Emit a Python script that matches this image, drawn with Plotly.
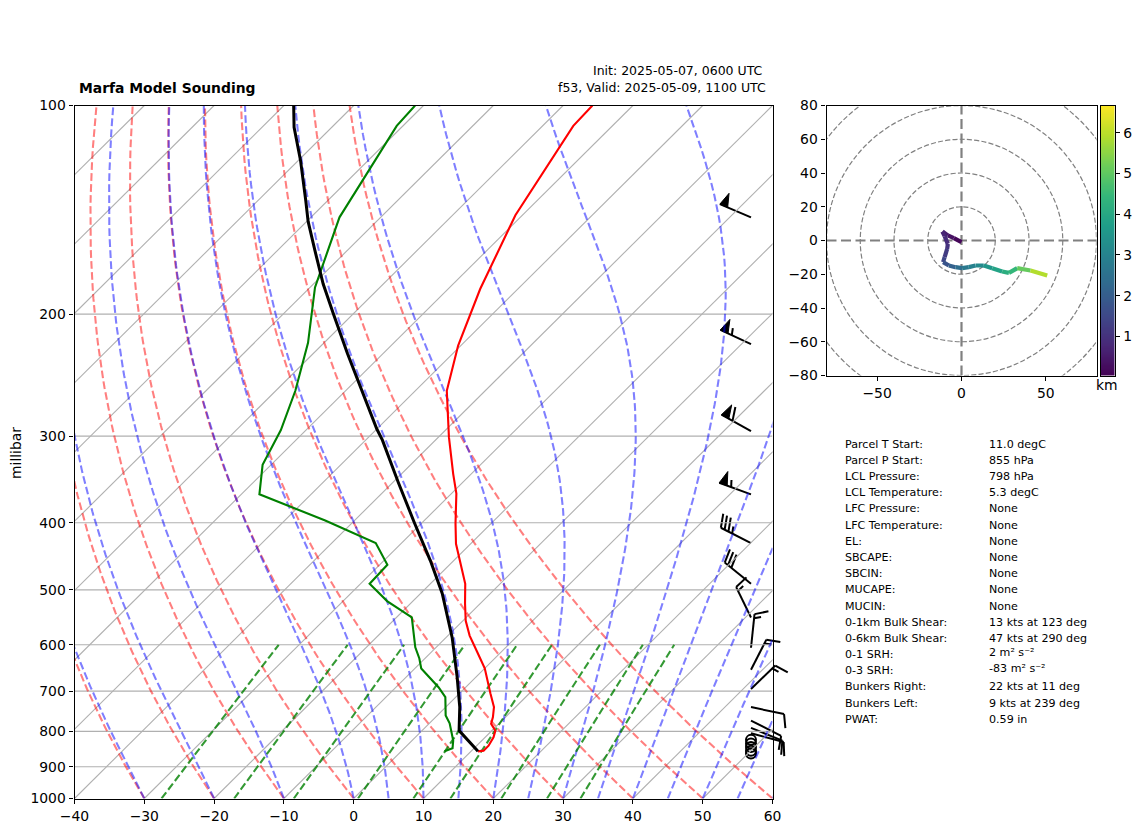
import numpy as np
import plotly.graph_objects as go
import plotly.colors as pc

WIDTH, HEIGHT = 1142, 832
FONT = 'DejaVu Sans'

# sounding (hPa, degC)
temp_p = [855, 853, 839, 816, 798, 780, 763, 738, 705, 676, 649, 615, 582, 554, 523, 490,
          458, 429, 401, 363, 340, 301, 258, 222, 184, 144, 107, 100]
temp_c = [11.0, 11.7, 11.7, 11.2, 10.5, 8.9, 8.2, 6.9, 4.4, 2.2, 0.0, -3.4, -6.9, -9.6, -12.2, -15.0,
          -18.6, -22.1, -25.1, -29.3, -32.6, -38.5, -45.5, -50.4, -55.4, -61.0, -65.6, -65.8]
dewp_p = [855, 846, 825, 798, 779, 759, 714, 691, 649, 628, 605, 548, 519, 490, 460, 428,
          397, 364, 330, 294, 258, 220, 183, 145, 107, 100]
dewp_c = [6.2, 6.9, 5.9, 4.1, 2.9, 1.2, -1.5, -3.9, -9.1, -10.8, -13.0, -17.8, -23.7, -28.7, -28.9, -33.7,
          -44.2, -57.4, -61.2, -63.6, -67.2, -72.3, -79.3, -85.9, -90.9, -91.2]
parcel_p = [855, 798, 738, 668, 586, 506, 454, 429, 400, 350, 304, 293, 255, 228, 200, 181, 162, 147, 137,
            120, 107.5, 100]
parcel_c = [11.0, 5.3, 2.0, -2.7, -9.1, -16.9, -23.3, -26.8, -31.1, -39.2, -47.6, -50.0, -58.4, -65.1, -72.8,
            -78.6, -84.6, -89.8, -93.2, -99.7, -105.4, -108.6]

# wind barbs
barb_p = [145, 221, 295, 364, 428, 490, 548, 606, 652, 695, 738, 772, 791, 805]
barb_kts = [50, 55, 60, 55, 35, 30, 15, 15, 15, 15, 10, 10, 10, 10]
barb_dir = [293, 295, 299, 290, 297, 309, 334, 6, 27, 46, 102, 117, 112, 105]
calm_p = [823, 833, 843, 853, 861]

# hodograph
hodo_u = [0, -4.5, -8.1, -11.3, -10, -8.1, -8.5, -10, -10.9, -7.5, -3.6, 0.4, 4.3, 8.3, 13.2, 18.2, 24.1, 28.1,
          33, 40.9, 50.8]
hodo_v = [-1, 1.4, 3, 5.3, 2.6, -2, -5, -9.9, -12.8, -14.8, -15.8, -16.4, -15.8, -14.8, -14.8, -16.4, -18.4, -19.2,
          -16.4, -17.8, -20.7]
hodo_km = [0.05, 0.25, 0.45, 0.65, 0.8, 0.95, 1.1, 1.35, 1.6, 1.95, 2.25, 2.6, 2.85, 3.05, 3.35, 3.7, 4.05, 4.3,
           4.55, 5.6, 6.2]
hodo_rings = [20, 40, 60, 80, 100]
km_min, km_max = 0.04, 6.67

# background lines of the skew-T
isotherm_start = list(range(-140, 70, 10))
dry_start = list(range(-40, 70, 10))
moist_start = [-40, -30, -20, -10, 0, 5, 10, 15, 20, 25, 30, 35, 40, 45, 50, 55, 60]
mixing_ratios = [0.0004, 0.001, 0.002, 0.004, 0.007, 0.01, 0.016, 0.024, 0.032]

p_ticks = [100, 200, 300, 400, 500, 600, 700, 800, 900, 1000]
t_ticks = list(range(-40, 70, 10))
hodo_x_ticks = [-50, 0, 50]
hodo_y_ticks = [-80, -60, -40, -20, 0, 20, 40, 60, 80]
cbar_ticks = [1, 2, 3, 4, 5, 6]

stat_labels = ['Parcel T Start:', 'Parcel P Start:', 'LCL Pressure:', 'LCL Temperature:', 'LFC Pressure:',
               'LFC Temperature:', 'EL:', 'SBCAPE:', 'SBCIN:', 'MUCAPE:', 'MUCIN:', '0-1km Bulk Shear:',
               '0-6km Bulk Shear:', '0-1 SRH:', '0-3 SRH:', 'Bunkers Right:', 'Bunkers Left:', 'PWAT:']
stat_values = ['11.0 degC', '855 hPa', '798 hPa', '5.3 degC', 'None', 'None', 'None', 'None', 'None', 'None',
               'None', '13 kts at 123 deg', '47 kts at 290 deg', '2 m² s⁻²', '-83 m² s⁻²', '22 kts at 11 deg',
               '9 kts at 239 deg', '0.59 in']

# plot boxes in pixels of the page
MAIN_L, MAIN_R, MAIN_T, MAIN_B = 74.5, 772.5, 105.5, 798.5
HODO_L, HODO_R, HODO_T, HODO_B = 826.5, 1096.5, 105.5, 375.5
CBAR_L, CBAR_R = 1100.5, 1114.5
BARB_R = 800.5  # barbs run past the right edge of the skew-T
PX_PER_DEG = (MAIN_R - MAIN_L) / 100
PX_PER_DECADE = MAIN_B - MAIN_T
SKEW = 100  # degC of lean per decade of pressure


def px(x):
    return x / WIDTH


def py(y):
    return 1 - y / HEIGHT


def skew_x(t, p):
    return np.asarray(t, dtype=float) + SKEW * np.log10(1000 / np.asarray(p, dtype=float))


def moist_curve(t0, p):
    # RK4 on the saturated lapse rate, starting from 1000 hPa
    def slope(t, pr):
        es = 6.112 * np.exp(17.67 * (t - 273.15) / (t - 29.65))
        rs = 0.622 * es / (pr - es)
        return (287.05 * t + 2.501e6 * rs) / (1005.0 + 2.501e6 ** 2 * rs * 0.622 / (287.05 * t ** 2)) / pr

    out = [t0 + 273.15]
    for p0, p1 in zip(p[:-1], p[1:]):
        t, h = out[-1], p1 - p0
        k1 = slope(t, p0)
        k2 = slope(t + h * k1 / 2, p0 + h / 2)
        k3 = slope(t + h * k2 / 2, p0 + h / 2)
        k4 = slope(t + h * k3, p1)
        out.append(t + h * (k1 + 2 * k2 + 2 * k3 + k4) / 6)
    return np.array(out) - 273.15


def barb_shapes(pressures, speeds, directions, anchor):
    # same proportions as matplotlib barbs: length 7, spacing .125, height .4, width .25
    length = 33.8
    spacing, height, width = 0.125 * length, 0.4 * length, 0.25 * length
    line_x, line_y, flag_x, flag_y = [], [], [], []
    for pres, spd, wdir in zip(pressures, speeds, directions):
        dx, dy = np.sin(np.radians(wdir)), np.cos(np.radians(wdir))
        nx, ny = dy, -dx

        def place(along, across):
            ox = along * dx + across * nx
            oy = along * dy + across * ny
            return anchor + ox / PX_PER_DEG, pres * 10 ** (-oy / PX_PER_DECADE)

        def add_line(*pts):
            for a, c in pts:
                x, y = place(a, c)
                line_x.append(x)
                line_y.append(y)
            line_x.append(None)
            line_y.append(None)

        add_line((0, 0), (length, 0))
        n_flag, rest = divmod(spd, 50)
        n_full, n_half = divmod(rest, 10)
        off = 0
        for _ in range(n_flag):
            a = length - off
            for al, ac in [(a, 0), (a - width / 2, height), (a - width, 0), (a, 0)]:
                x, y = place(al, ac)
                flag_x.append(x)
                flag_y.append(y)
            flag_x.append(None)
            flag_y.append(None)
            off += width + spacing
        for _ in range(n_full):
            a = length - off
            add_line((a, 0), (a + width / 2, height))
            off += spacing
        if n_half:
            if n_flag == 0 and n_full == 0:
                off += 1.5 * spacing
            a = length - off
            add_line((a, 0), (a + width / 4, height / 2))
    return line_x, line_y, flag_x, flag_y


fig = go.Figure()
p_full = np.linspace(1000, 100, 181)
DASH = '7.7px,3.3px'
barb_anchor = (751 - MAIN_L) / PX_PER_DEG - 40

# barbs go on the wider hidden x axis so they are drawn first and not cut at the frame
bx, by, fx, fy = barb_shapes(barb_p, barb_kts, barb_dir, barb_anchor)
fig.add_trace(go.Scatter(x=fx, y=fy, mode='lines', fill='toself', fillcolor='black',
                         line=dict(color='black', width=1)))
fig.add_trace(go.Scatter(x=bx, y=by, mode='lines', line=dict(color='black', width=2)))
fig.add_trace(go.Scatter(x=[barb_anchor] * len(calm_p), y=calm_p, mode='markers',
                         marker=dict(symbol='circle-open', size=10, color='black', line=dict(width=2, color='black'))))

# isotherms and pressure lines
for t in isotherm_start:
    fig.add_trace(go.Scatter(x=skew_x([t, t], [1000, 100]), y=[1000, 100], xaxis='x3', mode='lines',
                             line=dict(color='#b0b0b0', width=1.1)))
for p in p_ticks[1:-1]:
    fig.add_trace(go.Scatter(x=[-40, 60], y=[p, p], xaxis='x3', mode='lines', line=dict(color='#b0b0b0', width=1.1)))

for t in dry_start:
    temps = (t + 273.15) * (p_full / 1000) ** 0.2857 - 273.15
    fig.add_trace(go.Scatter(x=skew_x(temps, p_full), y=p_full, xaxis='x3', mode='lines',
                             line=dict(color='rgba(255,0,0,0.5)', width=2.08, dash=DASH)))
for t in moist_start:
    fig.add_trace(go.Scatter(x=skew_x(moist_curve(t, p_full), p_full), y=p_full, xaxis='x3', mode='lines',
                             line=dict(color='rgba(0,0,255,0.5)', width=2.08, dash=DASH)))
p_mix = np.linspace(1000, 600, 81)
for w in mixing_ratios:
    ln_e = np.log(p_mix * w / (0.622 + w) / 6.112)
    dew = 243.5 * ln_e / (17.67 - ln_e)
    fig.add_trace(go.Scatter(x=skew_x(dew, p_mix), y=p_mix, xaxis='x3', mode='lines',
                             line=dict(color='rgba(0,128,0,0.8)', width=2.08, dash=DASH)))

fig.add_trace(go.Scatter(x=skew_x(temp_c, temp_p), y=temp_p, xaxis='x3', mode='lines', line=dict(color='red', width=2.1)))
fig.add_trace(go.Scatter(x=skew_x(dewp_c, dewp_p), y=dewp_p, xaxis='x3', mode='lines', line=dict(color='green', width=2.1)))
fig.add_trace(go.Scatter(x=skew_x(parcel_c, parcel_p), y=parcel_p, xaxis='x3', mode='lines', line=dict(color='black', width=3)))

# hodograph
for axis_x, axis_y in [([-80, 80], [0, 0]), ([0, 0], [-80, 80])]:
    fig.add_trace(go.Scatter(x=axis_x, y=axis_y, xaxis='x2', yaxis='y2', mode='lines',
                             line=dict(color='gray', width=2.2, dash='10px,4.5px')))
for i in range(len(hodo_u) - 1):
    frac = ((hodo_km[i] + hodo_km[i + 1]) / 2 - km_min) / (km_max - km_min)
    fig.add_trace(go.Scatter(x=hodo_u[i:i + 2], y=hodo_v[i:i + 2], xaxis='x2', yaxis='y2', mode='lines',
                             line=dict(color=pc.sample_colorscale('Viridis', [frac])[0], width=4.2)))

# colour bar as its own small axes, a real colorbar would push the margins
km_steps = np.linspace(km_min, km_max, 256)
fig.add_trace(go.Heatmap(x=[0, 1], y=km_steps, z=[[v, v] for v in km_steps], xaxis='x4', yaxis='y4',
                         colorscale='Viridis', zmin=km_min, zmax=km_max, showscale=False))

rings = [dict(type='circle', xref='x2', yref='y2', x0=-r, x1=r, y0=-r, y1=r, layer='below',
              line=dict(color='gray', width=1.2, dash='5.1px,2.2px')) for r in hodo_rings]


def label(text, x, y, size=13.9, anchor='left', bold=False, angle=0):
    return dict(text=f'<b>{text}</b>' if bold else text, x=px(x), y=py(y), xref='paper', yref='paper',
                showarrow=False, xanchor=anchor, yanchor='middle', textangle=angle,
                font=dict(family=FONT, size=size, color='black'), borderpad=0)


notes = [
    label('Marfa Model Sounding', 78, 88, bold=True),
    label('Init: 2025-05-07, 0600 UTC', 764, 70, size=12.5, anchor='right'),
    label('f53, Valid: 2025-05-09, 1100 UTC', 767, 88, size=12.5, anchor='right'),
    label('millibar', 7, 453, angle=-90),
    label('km', 1095, 385),
]
for i, (name, val) in enumerate(zip(stat_labels, stat_values)):
    row_y = 444.3 + i * 16.17
    notes.append(label(name, 844, row_y, size=11.1))
    notes.append(label(val, 988, row_y - 2 if 'm²' in val else row_y, size=11.1))

axis_style = dict(showline=True, mirror=True, linecolor='black', linewidth=1.1, ticks='outside', ticklen=4.9,
                  tickwidth=1.1, tickcolor='black', showgrid=False, zeroline=False, tickmode='array',
                  automargin=False, tickfont=dict(family=FONT, size=13.9, color='black'))

fig.update_layout(
    width=WIDTH, height=HEIGHT,
    margin=dict(l=0, r=0, t=0, b=0),
    paper_bgcolor='white', plot_bgcolor='rgba(0,0,0,0)',
    showlegend=False, hovermode=False,
    shapes=rings, annotations=notes,
    xaxis=dict(domain=[px(MAIN_L), px(BARB_R)], range=[-40, -40 + (BARB_R - MAIN_L) / PX_PER_DEG],
               visible=False, anchor='y', automargin=False),
    xaxis3=dict(domain=[px(MAIN_L), px(MAIN_R)], range=[-40, 60], tickvals=t_ticks, anchor='y', **axis_style),
    yaxis=dict(domain=[py(MAIN_B), py(MAIN_T)], type='log', range=[3, 2], tickvals=p_ticks,
               ticktext=[str(v) for v in p_ticks], anchor='x3', **axis_style),
    xaxis2=dict(domain=[px(HODO_L), px(HODO_R)], range=[-80, 80], tickvals=hodo_x_ticks, anchor='y2', **axis_style),
    yaxis2=dict(domain=[py(HODO_B), py(HODO_T)], range=[-80, 80], tickvals=hodo_y_ticks, anchor='x2', **axis_style),
    xaxis4=dict(domain=[px(CBAR_L), px(CBAR_R)], range=[0, 1], anchor='y4', automargin=False, showline=True,
                mirror=True, linecolor='black', linewidth=1.1, showticklabels=False, ticks='', showgrid=False,
                zeroline=False),
    yaxis4=dict(domain=[py(HODO_B), py(HODO_T)], range=[km_min, km_max], tickvals=cbar_ticks, side='right',
                anchor='x4', **axis_style),
)

fig.write_html('out.html', config=dict(displayModeBar=False),
               post_script="document.body.style.margin='0';")
